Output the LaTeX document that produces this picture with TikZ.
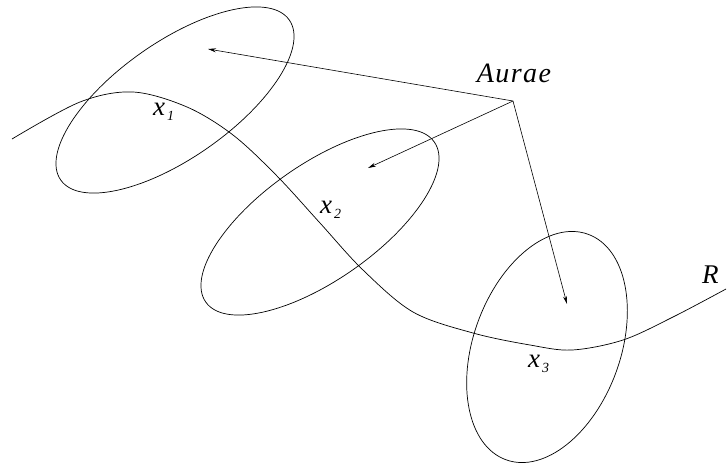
\documentclass[tikz,border=0pt]{standalone}
\usepackage{fontspec}
\setmainfont{Liberation Serif}
\usetikzlibrary{shapes.geometric, arrows.meta}
\newcommand{\ptlab}[1]{\itshape x\hspace{2pt}\raisebox{-5pt}{\fontsize{14}{14}\selectfont #1}}
\begin{document}
\begin{tikzpicture}[x=1pt, y=-1pt,
            aura/.style={
                ellipse, draw=black, line width=0.7pt,
                inner sep=0pt
            },
            ray/.style={line width=0.6pt, -{Stealth[length=8pt, width=4pt]}},
            lab/.style={font=\fontsize{27}{30}\selectfont\itshape, inner sep=0pt}
        ]
            \useasboundingbox (0,0) rectangle (728,466);
            % the auras round the three points
            \node[aura, minimum width=279pt, minimum height=116pt, rotate=35] (a1) at (175,100) {};
            \node[aura, minimum width=279pt, minimum height=116pt, rotate=35] (a2) at (320,222) {};
            \node[aura, minimum width=240pt, minimum height=147pt, rotate=70] (a3) at (547,347) {};
            % the curve R
            \draw[line width=0.7pt] plot[smooth, tension=0.55] coordinates {
                (12,139) (80,102) (133,92) (187,107) (233,135) (277,176) (320,223)
                (363,270) (413,312) (473,333) (530,345) (572,350) (623,340)
                (673,317) (726,289)};
            \node[lab, anchor=base west] (x1) at (153,115) {\ptlab{1}};
            \node[lab, anchor=base west] (x2) at (320,213) {\ptlab{2}};
            \node[lab, anchor=base west] (x3) at (528,367) {\ptlab{3}};
            \node[lab, anchor=base west] (r) at (702,283) {R};
            \node[lab, anchor=base, font=\fontsize{28}{30}\selectfont\itshape\addfontfeatures{LetterSpace=5}] (aurae) at (514,82) {Aurae};
            \coordinate (src) at (513,101);
            \coordinate (tip1) at (208,49);
            \coordinate (tip2) at (368,168);
            \coordinate (tip3) at (567,304);
            \draw[ray] (src) -- (tip1);
            \draw[ray] (src) -- (tip2);
            \draw[ray] (src) -- (tip3);
        \end{tikzpicture}
\end{document}
